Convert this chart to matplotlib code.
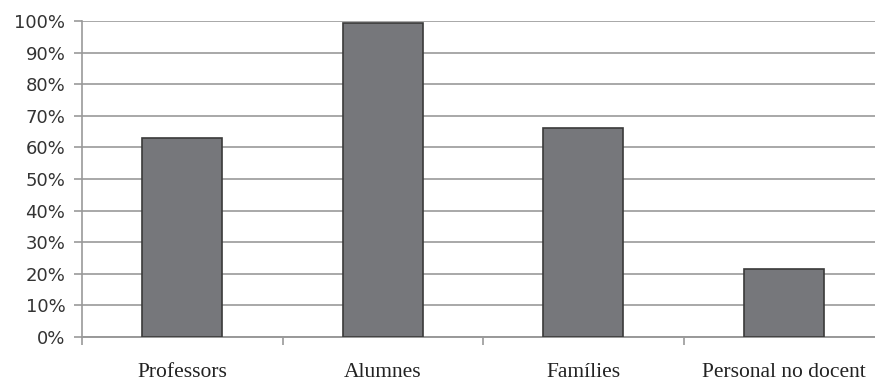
import matplotlib
matplotlib.use("Agg")
import matplotlib.pyplot as plt
import matplotlib.ticker as mticker
import numpy as np

categories = ["Professors", "Alumnes", "Famílies", "Personal no docent"]
values = [63, 99.5, 66, 21.5]
y_ticks = list(range(0, 101, 10))

fig = plt.figure(figsize=(8.75, 3.82), dpi=100)
W, H = 875, 382
ax = fig.add_axes([82 / W, (H - 337) / H, (875 - 82) / W, (337 - 21) / H])

x = np.arange(len(categories))
ax.bar(x, values, width=0.40, color="#76777b", edgecolor="#3a3a3a", linewidth=1.2, zorder=3)

ax.set_ylim(0, 100)
ax.set_xlim(-0.5, 3.455)
ax.set_yticks(y_ticks)
ax.yaxis.set_major_formatter(mticker.FuncFormatter(lambda v, _: f"{int(v)}%"))
ax.yaxis.grid(True, color="#a8a8a8", linewidth=1.4, zorder=0)
ax.set_axisbelow(True)

# category labels centred, tick marks at category boundaries
ax.set_xticks(x)
ax.set_xticklabels(categories, family="Liberation Serif", fontsize=15.5, color="#222222")
ax.tick_params(axis="x", length=0, pad=19)
ax.set_xticks(np.arange(-0.5, 3.5, 1.0), minor=True)
ax.tick_params(axis="x", which="minor", length=6, width=1.2, color="#999999", direction="out")
ax.tick_params(axis="y", length=6, width=1.2, color="#999999", labelsize=13,
               labelcolor="#333333", pad=6)

for side in ["top", "right"]:
    ax.spines[side].set_visible(False)
ax.spines["left"].set_color("#999999")
ax.spines["left"].set_linewidth(1.2)
ax.spines["bottom"].set_color("#999999")
ax.spines["bottom"].set_linewidth(1.4)

fig.savefig("out.png", dpi=100)
